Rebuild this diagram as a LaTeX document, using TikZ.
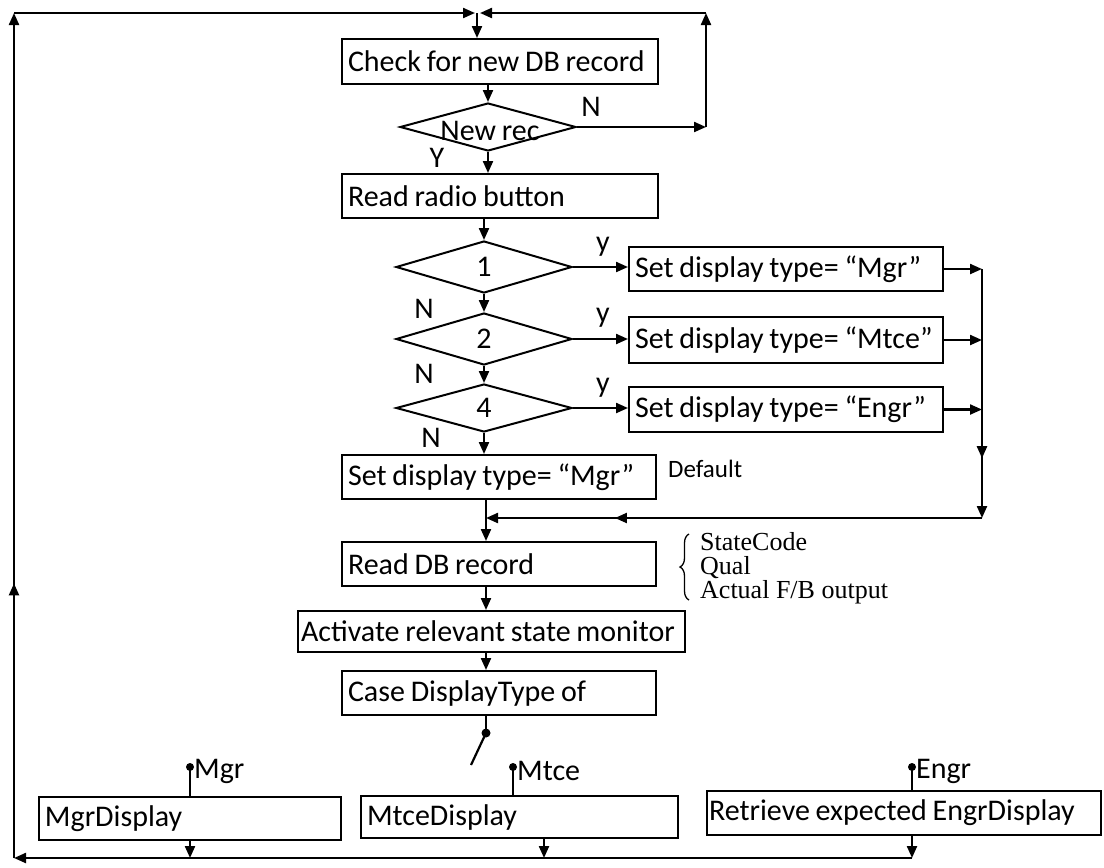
\documentclass[tikz,border=0pt]{standalone}
\usepackage{fontspec}
\setmainfont{Carlito}[WordSpace={0.85,0,0}]
\newfontfamily\timesf{Liberation Serif}
\usetikzlibrary{arrows.meta,shapes.geometric,decorations.markings,decorations.pathreplacing}
\newcommand\lefttext[2]{\hbox to #1{#2\hss}}
\begin{document}
\begin{tikzpicture}[x=1pt,y=-1pt,
  every node/.style={font=\fontsize{30}{35}\selectfont},
  lw/.style={line width=2.2pt},
  tip/.style={-{Triangle[length=12pt,width=10pt]}},
  arr/.style={lw,tip},
  midarr/.style={postaction={decorate},decoration={markings,mark=at position #1 with {\arrow{Triangle[length=12pt,width=10pt]}}}},
  bx/.style={draw,line width=2pt,rectangle,anchor=north west,inner xsep=6pt,inner ysep=0pt},
  dm/.style={draw,line width=2pt,diamond,inner sep=0pt},
  lab/.style={inner sep=0pt},
  side/.style={inner sep=0pt,anchor=base west,font=\timesf\fontsize{26}{28}\selectfont}]
\useasboundingbox (0,0) rectangle (1104,868);
\fill[white] (0,0) rectangle (1104,868);

% boxes
\node[bx,minimum width=316,minimum height=45] (check) at (341,38) {\lefttext{304pt}{Check for new DB record}};
\node[bx,minimum width=316,minimum height=44] (radio) at (341,173) {\lefttext{304pt}{Read radio button}};
\node[bx,minimum width=314,minimum height=44] (set1) at (628,246) {\lefttext{302pt}{Set display type= “Mgr”}};
\node[bx,minimum width=314,minimum height=46] (set2) at (628,316) {\lefttext{302pt}{Set display type= “Mtce”}};
\node[bx,minimum width=314,minimum height=45] (set4) at (628,386) {\lefttext{302pt}{Set display type= “Engr”}};
\node[bx,minimum width=314,minimum height=44] (setdef) at (341,454) {\lefttext{302pt}{Set display type= “Mgr”}};
\node[bx,minimum width=314,minimum height=44] (readdb) at (341,541) {\lefttext{302pt}{Read DB record}};
\node[bx,minimum width=387,minimum height=41,inner xsep=3pt] (activate) at (297,610) {\lefttext{381pt}{Activate relevant state monitor}};
\node[bx,minimum width=314,minimum height=44] (case) at (341,670) {\lefttext{302pt}{Case DisplayType of}};
\node[bx,minimum width=302,minimum height=43] (mgrd) at (38,796) {\lefttext{290pt}{MgrDisplay}};
\node[bx,minimum width=317,minimum height=42] (mtced) at (360,795) {\lefttext{305pt}{MtceDisplay}};
\node[bx,minimum width=394,minimum height=44,inner xsep=2pt] (engrd) at (706,790) {\lefttext{390pt}{Retrieve expected EngrDisplay}};

% diamonds
\node[dm,minimum width=176,minimum height=48] (nr) at (488,127) {};
\node[lab] (nrt) at (490,131) {New rec};
\node[dm,minimum width=176,minimum height=52] (d1) at (484,267) {};
\node[lab] (d1t) at (d1) {1};
\node[dm,minimum width=176,minimum height=52] (d2) at (484,339) {};
\node[lab] (d2t) at (d2) {2};
\node[dm,minimum width=176,minimum height=48] (d4) at (484,408) {};
\node[lab] (d4t) at (d4) {4};

% labels
\node[lab] (ln) at (591,107) {N};
\node[lab] (ly) at (437,158) {Y};
\node[lab] (y1) at (603,247) {y};
\node[lab] (y2) at (603,318) {y};
\node[lab] (y4) at (603,388) {y};
\node[lab] (n1) at (424,309) {N};
\node[lab] (n2) at (424,374) {N};
\node[lab] (n4) at (431,438) {N};
\node[lab,anchor=west,font=\fontsize{25}{29}\selectfont] (dflt) at (668,469) {Default};
\node[side] (s1) at (700,550) {StateCode};
\node[side] (s2) at (700,574) {Qual};
\node[side] (s3) at (700,598) {Actual F/B output};
\draw[line width=1.3pt,decorate,decoration={brace,amplitude=9pt}] (689,600) -- (689,534);

% coordinates
\coordinate (tl) at (14,13);
\coordinate (bl) at (14,858);
\coordinate (tj) at (477,13);
\coordinate (tr) at (706,13);
\coordinate (rc) at (982,518);
\coordinate (join) at (486,518);
\coordinate (sw) at (486,733);
\coordinate (swend) at (471,765);
\coordinate (mgrdot) at (190,767);
\coordinate (mtdot) at (513,767);
\coordinate (endot) at (912,767);
\coordinate (mtarr) at (544,858);

% main flow
\draw[arr] (tj) -- (tj |- check.north);
\draw[arr] (nr.north |- check.south) -- (nr.north);
\draw[arr] (nr.south) -- (nr.south |- radio.north);
\draw[arr] (d1.north |- radio.south) -- (d1.north);
\draw[arr] (d1.south) -- (d2.north);
\draw[arr] (d2.south) -- (d4.north);
\draw[arr] (d4.south) -- (d4.south |- setdef.north);
\draw[arr] (join |- setdef.south) -- (join |- readdb.north);
\draw[arr] (join |- readdb.south) -- (join |- activate.north);
\draw[arr] (join |- activate.south) -- (join |- case.north);

% loop back on N
\draw[arr] (nr.east) -- (nr.east -| tr);
\draw[arr] (nr.east -| tr) -- (tr);
\draw[arr] (tr) -- ([xshift=3pt]tj);

% branches
\draw[arr] (d1.east) -- (d1.east -| set1.west);
\draw[arr] (d2.east) -- (d2.east -| set2.west);
\draw[arr] (d4.east) -- (d4.east -| set4.west);
\draw[arr] (set1.east) -- (set1.east -| rc);
\draw[arr] (set2.east) -- (set2.east -| rc);
\draw[arr] (set4.east) -- (set4.east -| rc);
\draw[arr,midarr=0.76] (set1.east -| rc) -- (rc);
\draw[arr,midarr=0.74] (rc) -- (join);

% case switch
\draw[lw] (sw |- case.south) -- (sw);
\fill (sw) circle (4.5pt);
\draw[lw] (sw) -- (swend);
\fill (mgrdot) circle (4pt);
\fill (mtdot) circle (4pt);
\fill (endot) circle (4pt);
\draw[lw] (mgrdot) -- (mgrdot |- mgrd.north);
\draw[lw] (mtdot) -- (mtdot |- mtced.north);
\draw[lw] (endot) -- (endot |- engrd.north);
\node[lab,anchor=west] (lmgr) at ([xshift=4pt,yshift=-4pt]mgrdot) {Mgr};
\node[lab,anchor=west] (lmt) at ([xshift=4pt,yshift=-4pt]mtdot) {Mtce};
\node[lab,anchor=west] (len) at ([xshift=4pt,yshift=-4pt]endot) {Engr};

% outputs and return
\draw[arr] (mgrdot |- mgrd.south) -- (mgrdot |- bl);
\draw[arr] (mtarr |- mtced.south) -- (mtarr);
\draw[arr] (endot |- engrd.south) -- (endot |- bl);
\draw[arr] (endot |- bl) -- (bl);
\draw[arr,midarr=0.325] (bl) -- (tl);
\draw[arr] (tl) -- ([xshift=-2pt]tj);
\end{tikzpicture}
\end{document}
